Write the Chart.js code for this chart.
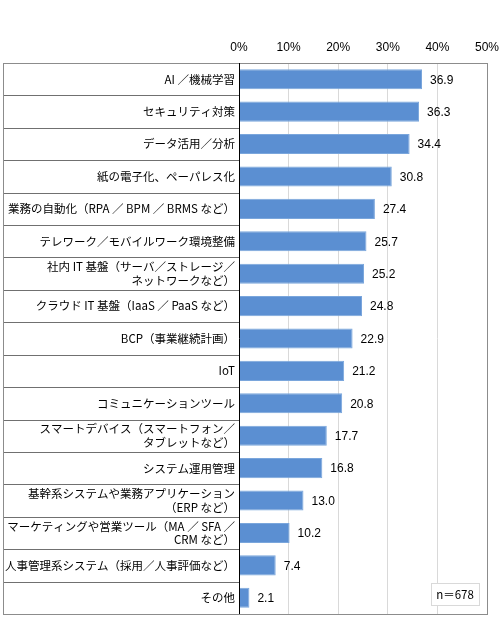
<!DOCTYPE html>
<html>
<head>
<meta charset="utf-8">
<script src="https://cdn.jsdelivr.net/npm/chart.js@4/dist/chart.umd.min.js"></script>
<style>
  html, body { margin: 0; padding: 0; background: #fff; }
  #wrap { width: 500px; height: 628px; }
</style>
</head>
<body>
<div id="wrap"><canvas id="c" width="500" height="628"></canvas></div>
<script>
// data
const categories = [
  'AI ／機械学習',
  'セキュリティ対策',
  'データ活用／分析',
  '紙の電子化、ペーパレス化',
  '業務の自動化（RPA ／ BPM ／ BRMS など）',
  'テレワーク／モバイルワーク環境整備',
  ['社内 IT 基盤（サーバ／ストレージ／', 'ネットワークなど）'],
  'クラウド IT 基盤（IaaS ／ PaaS など）',
  'BCP（事業継続計画）',
  'IoT',
  'コミュニケーションツール',
  ['スマートデバイス（スマートフォン／', 'タブレットなど）'],
  'システム運用管理',
  ['基幹系システムや業務アプリケーション', '（ERP など）'],
  ['マーケティングや営業ツール（MA ／ SFA ／', 'CRM など）'],
  '人事管理系システム（採用／人事評価など）',
  'その他'
];
const values = [36.9, 36.3, 34.4, 30.8, 27.4, 25.7, 25.2, 24.8, 22.9, 21.2, 20.8, 17.7, 16.8, 13.0, 10.2, 7.4, 2.1];
const xTicks = [0, 10, 20, 30, 40, 50];
const noteText = 'n＝678';

const jpFont = '"Noto Sans CJK JP", sans-serif';
const numFont = '"Liberation Sans", Arial, sans-serif';

// 枠・行の区切り線・数値ラベル
const tablePlugin = {
  id: 'tablePlugin',
  afterDatasetsDraw(chart) {
    const ctx = chart.ctx;
    const a = chart.chartArea;
    const y = chart.scales.y;
    const left = 3;
    ctx.save();
    // row lines in label area
    ctx.strokeStyle = '#707070';
    ctx.lineWidth = 1;
    for (let i = 1; i < categories.length; i++) {
      const yy = Math.round((y.getPixelForValue(i - 1) + y.getPixelForValue(i)) / 2) + 0.5;
      ctx.beginPath();
      ctx.moveTo(left, yy);
      ctx.lineTo(a.left, yy);
      ctx.stroke();
    }
    // outer box
    ctx.strokeStyle = '#8c8c8c';
    ctx.strokeRect(left + 0.5, Math.round(a.top) + 0.5, Math.round(a.right) - left, Math.round(a.bottom - a.top));
    // axis line
    ctx.strokeStyle = '#000';
    ctx.beginPath();
    ctx.moveTo(Math.round(a.left) + 0.5, a.top);
    ctx.lineTo(Math.round(a.left) + 0.5, a.bottom);
    ctx.stroke();

    // value labels
    const meta = chart.getDatasetMeta(0);
    ctx.fillStyle = '#000';
    ctx.font = '12px ' + numFont;
    ctx.textAlign = 'left';
    ctx.textBaseline = 'middle';
    meta.data.forEach((bar, i) => {
      ctx.fillText(values[i].toFixed(1), bar.x + 8, bar.y + 1);
    });

    // n box
    const bx = 431, by = 583, bw = 48, bh = 22;
    ctx.fillStyle = '#fff';
    ctx.fillRect(bx, by, bw, bh);
    ctx.strokeStyle = '#d9d9d9';
    ctx.strokeRect(bx + 0.5, by + 0.5, bw, bh);
    ctx.fillStyle = '#000';
    ctx.font = '11.5px ' + jpFont;
    ctx.textAlign = 'center';
    ctx.fillText(noteText, bx + bw / 2, by + bh / 2 + 1);
    ctx.restore();
  }
};

new Chart(document.getElementById('c'), {
  type: 'bar',
  data: {
    labels: categories,
    datasets: [{
      data: values,
      backgroundColor: '#5b8fd2',
      borderColor: '#7aa6dc',
      borderWidth: 1,
      barPercentage: 0.62,
      categoryPercentage: 1.0
    }]
  },
  options: {
    indexAxis: 'y',
    responsive: false,
    animation: false,
    layout: { padding: { left: 3, right: 13, top: 0, bottom: 14 } },
    plugins: {
      legend: { display: false },
      tooltip: { enabled: false }
    },
    scales: {
      x: {
        position: 'top',
        min: 0,
        max: 50,
        afterBuildTicks(scale) {
          scale.ticks = xTicks.map(v => ({ value: v }));
        },
        afterFit(scale) {
          scale.height = 63;
          scale.paddingLeft = 0;
          scale.paddingRight = 0;
        },
        ticks: {
          padding: 8,
          color: '#000',
          font: { family: numFont, size: 12 },
          callback: v => v + '%'
        },
        grid: {
          color: ctx => (ctx.tick && (ctx.tick.value === 0 || ctx.tick.value === 50)) ? 'rgba(0,0,0,0)' : '#d9d9d9',
          drawTicks: false
        },
        border: { display: false }
      },
      y: {
        afterFit(scale) { scale.width = 236; },
        ticks: {
          padding: 4,
          color: '#000',
          font: { family: jpFont, size: 11.5, lineHeight: 1.15 }
        },
        grid: { display: false, drawTicks: false },
        border: { display: false }
      }
    }
  },
  plugins: [tablePlugin]
});
</script>
</body>
</html>
